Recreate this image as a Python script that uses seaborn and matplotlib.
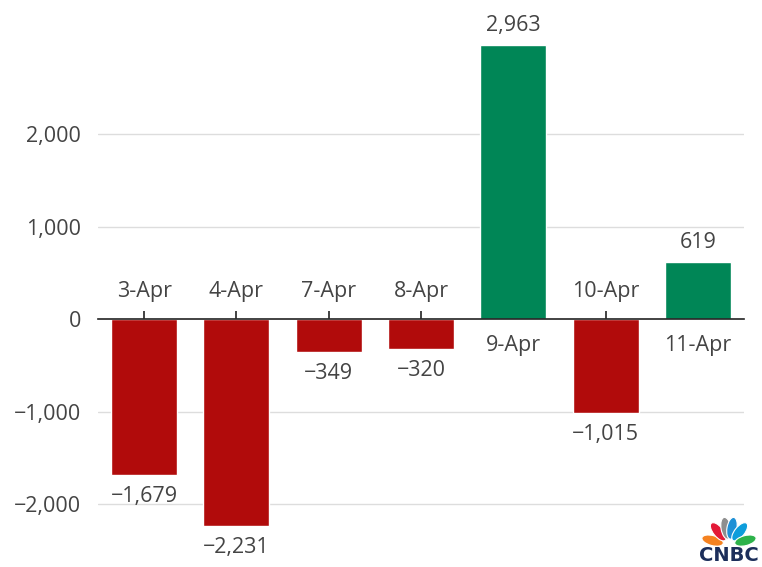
import numpy as np
import pandas as pd
import seaborn as sns
import matplotlib.pyplot as plt
from matplotlib.patches import Ellipse

days = ['3-Apr', '4-Apr', '7-Apr', '8-Apr', '9-Apr', '10-Apr', '11-Apr']
values = [-1679, -2231, -349, -320, 2963, -1015, 619]
yticks = [-2000, -1000, 0, 1000, 2000]

df = pd.DataFrame({'day': days, 'value': values})
df['sign'] = np.where(df['value'] >= 0, 'up', 'down')

sns.set_theme(style='white')
plt.rcParams['font.family'] = ['Open Sans', 'DejaVu Sans']
txt = '#444444'
fs = 15.5

fig = plt.figure(figsize=(7.62, 5.67), dpi=100)
ax = fig.add_axes([98 / 762, 1 - 560 / 567, 646 / 762, 546 / 567])

sns.barplot(data=df, x='day', y='value', hue='sign', dodge=False,
            palette={'up': '#008656', 'down': '#B10B0B'}, width=0.715,
            saturation=1, legend=False, ax=ax, zorder=3)

ax.set_xlim(-0.5, 6.5)
ax.set_ylim(-2600, 3300)
ax.set_yticks(yticks)
ax.set_yticklabels([f'{v:,}'.replace('-', '\u2212') for v in yticks],
                   fontsize=fs, color=txt)
for v in yticks:
    if v != 0:
        ax.axhline(v, color='#dddddd', lw=1, zorder=1)
ax.tick_params(axis='y', length=0, pad=12)

for s in ['top', 'right', 'left']:
    ax.spines[s].set_visible(False)
ax.spines['bottom'].set_position(('data', 0))
ax.spines['bottom'].set_color('#222222')
ax.spines['bottom'].set_linewidth(1.2)
ax.spines['bottom'].set_zorder(4)
ax.tick_params(axis='x', direction='in', length=6, width=1.2, color='#222222',
               labelbottom=False, bottom=True)
ax.set_xlabel('')
ax.set_ylabel('')

for i, v in enumerate(values):
    lab = f'{v:,}'.replace('-', '\u2212')
    if v >= 0:
        ax.text(i, v + 100, lab, ha='center', va='bottom', fontsize=fs, color=txt)
        ax.text(i, -170, days[i], ha='center', va='top', fontsize=fs, color=txt)
    else:
        ax.text(i, v - 120, lab, ha='center', va='top', fontsize=fs, color=txt)
        ax.text(i, 190, days[i], ha='center', va='bottom', fontsize=fs, color=txt)

# CNBC logo
lax = fig.add_axes([696 / 762, 1 - 566 / 567, 66 / 762, 52 / 567])
lax.set_xlim(0, 66)
lax.set_ylim(0, 52)
lax.axis('off')
feathers = ['#F58220', '#E31937', '#8E8E8E', '#1E90D6', '#0D9DDB', '#2DB24A']
angles = [165, 129, 100, 80, 51, 15]
for ang, col in zip(angles, feathers):
    r = np.deg2rad(ang)
    cx, cy = 33 + 17 * np.cos(r), 21 + 17 * np.sin(r)
    lax.add_patch(Ellipse((cx, cy), 22, 10, angle=ang, color=col, ec='white', lw=0.8))
lax.add_patch(Ellipse((33, 21), 7, 7, color='white'))
lax.text(33, 1, 'CNBC', ha='center', va='bottom', fontsize=14,
         fontweight='heavy', color='#1C2E5A', family=['DejaVu Sans'])

fig.savefig('out.png', dpi=100)
